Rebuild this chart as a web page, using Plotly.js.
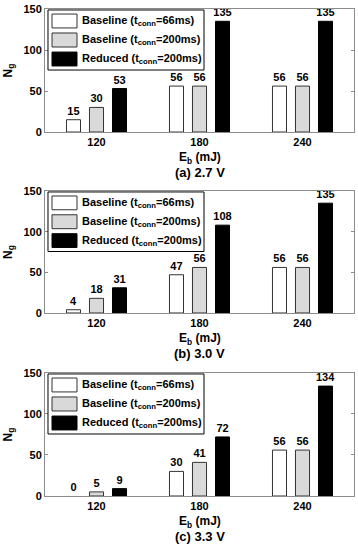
<!DOCTYPE html>
<html>
<head>
<meta charset="utf-8">
<script src="https://cdn.plot.ly/plotly-3.0.1.min.js"></script>
<style>html,body{margin:0;padding:0;background:#fff;}#chart{width:358px;height:550px;}</style>
</head>
<body>
<div id="chart"></div>
<script>
// ---- data ----
const energies = ['120', '180', '240'];
const seriesNames = [
  'Baseline (t<sub>conn</sub>=66ms)',
  'Baseline (t<sub>conn</sub>=200ms)',
  'Reduced (t<sub>conn</sub>=200ms)'
];
const captions = ['(a) 2.7 V', '(b) 3.0 V', '(c) 3.3 V'];
// panel (a) 2.7 V
const a_base66  = [15, 56, 56];
const a_base200 = [30, 56, 56];
const a_reduced = [53, 135, 135];
// panel (b) 3.0 V
const b_base66  = [4, 47, 56];
const b_base200 = [18, 56, 56];
const b_reduced = [31, 108, 135];
// panel (c) 3.3 V
const c_base66  = [0, 30, 56];
const c_base200 = [5, 41, 56];
const c_reduced = [9, 72, 134];
const yTicks = [0, 50, 100, 150];

// ---- styling ----
const FONT = 'Liberation Sans, Arial, Helvetica, sans-serif';
const fills = ['#ffffff', '#d9d9d9', '#000000'];
const outlines = ['#333333', '#333333', '#000000'];
const panels = [
  [a_base66, a_base200, a_reduced],
  [b_base66, b_base200, b_reduced],
  [c_base66, c_base200, c_reduced]
];

const traces = [];
panels.forEach((series, p) => {
  const sfx = p === 0 ? '' : String(p + 1);
  series.forEach((vals, s) => {
    traces.push({
      type: 'bar',
      x: energies,
      y: vals,
      name: seriesNames[s],
      xaxis: 'x' + sfx,
      yaxis: 'y' + sfx,
      marker: {color: fills[s], line: {color: outlines[s], width: vals.map(v => v > 0 ? 1 : 0)}},
      text: vals.map(String),
      textposition: 'outside',
      constraintext: 'none',
      textfont: {family: FONT, size: 11, color: '#000', weight: 'bold'},
      cliponaxis: false,
      showlegend: false,
      hoverinfo: 'skip'
    });
  });
});

const domains = [[0.7474, 1], [0.3758, 0.6263], [0, 0.2526]];
const layout = {
  width: 358, height: 550,
  margin: {l: 45, r: 4, t: 9, b: 54},
  paper_bgcolor: '#fff', plot_bgcolor: '#fff',
  barmode: 'group', bargap: 0.33, bargroupgap: 0.39,
  uniformtext: {mode: false},
  font: {family: FONT, size: 11, color: '#000', weight: 'bold'},
  showlegend: false,
  shapes: [], annotations: []
};

domains.forEach((dom, p) => {
  const sfx = p === 0 ? '' : String(p + 1);
  layout['xaxis' + sfx] = {
    domain: [0, 1], anchor: 'y' + sfx, type: 'category',
    range: [-0.5, 2.5], showline: true, linecolor: '#8c8c8c', linewidth: 1,
    mirror: true, ticks: '', showgrid: false, zeroline: false,
    tickfont: {family: FONT, size: 11, color: '#000', weight: 'bold'},
    fixedrange: true
  };
  layout['yaxis' + sfx] = {
    domain: dom, anchor: 'x' + sfx, range: [0, 150],
    tickvals: yTicks, ticktext: yTicks.map(String),
    showline: true, linecolor: '#8c8c8c', linewidth: 1, mirror: 'allticks',
    ticks: 'inside', ticklen: 3, tickcolor: '#8c8c8c',
    showgrid: false, zeroline: false,
    tickfont: {family: FONT, size: 11, color: '#000', weight: 'bold'},
    title: {text: 'N<sub>g</sub>', standoff: 8, font: {family: FONT, size: 12, color: '#000', weight: 'bold'}},
    fixedrange: true
  };
  const xr = 'x' + sfx + ' domain', yr = 'y' + sfx + ' domain';
  // legend box
  layout.shapes.push({type: 'rect', xref: xr, yref: yr, x0: 0.0097, x1: 0.5146, y0: 0.504, y1: 0.992,
    line: {color: '#000', width: 1}, fillcolor: '#fff', layer: 'above'});
  const rows = [[0.846, 0.959, 0.902], [0.691, 0.805, 0.748], [0.537, 0.650, 0.593]];
  rows.forEach((r, s) => {
    layout.shapes.push({type: 'rect', xref: xr, yref: yr, x0: 0.0227, x1: 0.1036, y0: r[0], y1: r[1],
      line: {color: outlines[s], width: 1}, fillcolor: fills[s], layer: 'above'});
    layout.annotations.push({xref: xr, yref: yr, x: 0.113, y: r[2], xanchor: 'left', yanchor: 'middle',
      text: seriesNames[s], showarrow: false,
      font: {family: FONT, size: 11, color: '#000', weight: 'bold'}});
  });
  // x-axis title and caption
  layout.annotations.push({xref: xr, yref: yr, x: 0.5, y: -0.211, xanchor: 'center', yanchor: 'middle',
    text: 'E<sub>b</sub> (mJ)', showarrow: false, font: {family: FONT, size: 12, color: '#000', weight: 'bold'}});
  layout.annotations.push({xref: xr, yref: yr, x: 0.5, y: -0.333, xanchor: 'center', yanchor: 'middle',
    text: captions[p], showarrow: false, font: {family: FONT, size: 13, color: '#000', weight: 'bold'}});
});

Plotly.newPlot('chart', traces, layout, {displayModeBar: false, staticPlot: true});
</script>
</body>
</html>
